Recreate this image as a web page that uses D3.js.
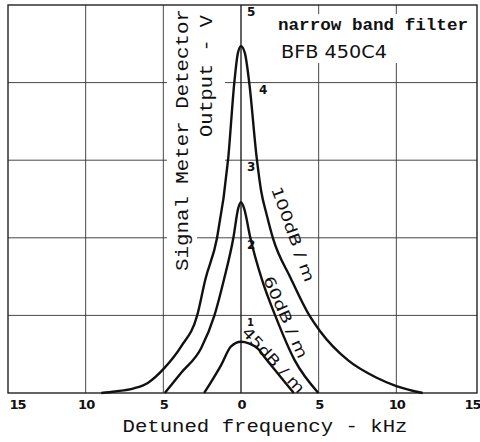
<!DOCTYPE html>
<html>
<head>
<meta charset="utf-8">
<script src="https://cdn.jsdelivr.net/npm/d3@7"></script>
<style>
  body { margin: 0; background: #fff; }
  svg { display: block; }
</style>
</head>
<body>
<div id="container"></div>
<script>
// chart size
const width = 480;
const height = 442;

// Curve data: [detuning kHz, output V]
const curve100 = [
  [-9, 0], [-8.1, 0.02], [-6.9, 0.06], [-6, 0.13], [-4.94, 0.32], [-3.85, 0.6],
  [-2.82, 1.0], [-2.3, 1.46], [-1.54, 2.0], [-0.82, 3.03], [-0.43, 4.0],
  [-0.2, 4.38], [0, 4.47], [0.25, 4.38], [0.53, 4.0], [1.0, 3.05],
  [1.3, 2.6], [1.65, 2.3], [2.05, 2.0], [3.2, 1.48], [4.4, 1.0],
  [5.08, 0.8], [6.9, 0.42], [8.7, 0.2], [10, 0.09], [11.7, 0]
];
const curve60 = [
  [-4.9, 0], [-3.85, 0.26], [-2.56, 0.58], [-1.71, 1.0], [-1.1, 1.46],
  [-0.49, 2.0], [-0.18, 2.38], [0, 2.46], [0.2, 2.38], [0.6, 2.0],
  [1.35, 1.46], [2.2, 1.0], [3.46, 0.42], [4.98, 0]
];
const curve45 = [
  [-2.37, 0], [-1.28, 0.36], [-0.64, 0.6], [0, 0.66], [0.5, 0.64],
  [1.1, 0.57], [1.6, 0.44], [2.5, 0.22], [3.4, 0]
];

// ticks
const xTicks = [-15, -10, -5, 0, 5, 10, 15];
const yTicks = [1, 2, 3, 4, 5];

// curve labels
const curveLabels = ["100dB / m", "60dB / m", "45dB / m"];

const x = d3.scaleLinear().domain([-15, 15]).range([8, 474]);
const y = d3.scaleLinear().domain([0, 5]).range([393, 5]);

const svg = d3.select("#container").append("svg")
    .attr("width", width)
    .attr("height", height);

// grid
const grid = svg.append("g")
    .attr("stroke", "#333")
    .attr("stroke-width", 0.9);

grid.selectAll("line.v")
    .data(xTicks.slice(1, -1))
    .join("line")
    .attr("x1", d => x(d)).attr("x2", d => x(d))
    .attr("y1", y(5)).attr("y2", y(0));

grid.selectAll("line.h")
    .data(yTicks.slice(0, -1))
    .join("line")
    .attr("x1", x(-15)).attr("x2", 477)
    .attr("y1", d => y(d)).attr("y2", d => y(d));

// white patches behind the text blocks (grid is broken there)
svg.append("rect").attr("x", 167).attr("y", 7).attr("width", 58).attr("height", 165).attr("fill", "#fff");
svg.append("rect").attr("x", 167).attr("y", 172).attr("width", 30).attr("height", 102).attr("fill", "#fff");
svg.append("rect").attr("x", 272).attr("y", 14).attr("width", 203).attr("height", 49).attr("fill", "#fff");

// center axis line
svg.append("line")
    .attr("x1", x(0)).attr("x2", x(0))
    .attr("y1", y(5)).attr("y2", y(0))
    .attr("stroke", "#222")
    .attr("stroke-width", 1);

// frame
svg.append("rect")
    .attr("x", x(-15)).attr("y", y(5))
    .attr("width", 477 - x(-15)).attr("height", y(0) - y(5))
    .attr("fill", "none")
    .attr("stroke", "#222")
    .attr("stroke-width", 1.4);

// curves
const line = d3.line()
    .x(d => x(d[0]))
    .y(d => y(d[1]))
    .curve(d3.curveMonotoneX);

svg.append("g")
    .selectAll("path")
    .data([curve100, curve60, curve45])
    .join("path")
    .attr("d", line)
    .attr("fill", "none")
    .attr("stroke", "#111")
    .attr("stroke-width", 2.4);

// y tick labels next to the centre line
const yLabelDx = { 1: 6, 2: 6, 3: 6, 4: 18, 5: 6 };
svg.append("g")
    .selectAll("text")
    .data(yTicks)
    .join("text")
    .attr("x", d => x(0) + yLabelDx[d])
    .attr("y", d => y(d) + 11)
    .attr("font-family", "DejaVu Sans")
    .attr("font-weight", "bold")
    .attr("font-size", d => d === 1 ? 10 : 12)
    .attr("fill", "#111")
    .text(d => d);

// x axis tick labels
const xAxis = d3.axisBottom(x)
    .tickValues(xTicks)
    .tickSize(0)
    .tickPadding(0)
    .tickFormat(d => Math.abs(d));

const gx = svg.append("g")
    .attr("transform", `translate(0,${y(0) + 4})`)
    .call(xAxis);
gx.select(".domain").remove();
gx.selectAll("text")
    .attr("font-family", "DejaVu Sans")
    .attr("font-weight", "bold")
    .attr("font-size", 13)
    .attr("letter-spacing", -1)
    .attr("fill", "#111")
    .attr("dy", "0.9em")
    .attr("dx", d => d === -15 ? 9 : d === 15 ? -2 : 0);

// axis titles
svg.append("text")
    .attr("x", 265)
    .attr("y", 432)
    .attr("text-anchor", "middle")
    .attr("font-family", "Liberation Mono")
    .attr("font-size", 19)
    .attr("textLength", 285)
    .attr("lengthAdjust", "spacingAndGlyphs")
    .attr("fill", "#111")
    .text("Detuned frequency - kHz");

svg.append("text")
    .attr("transform", "translate(188,140) rotate(-90)")
    .attr("text-anchor", "middle")
    .attr("font-family", "Liberation Mono")
    .attr("font-size", 19)
    .attr("textLength", 262)
    .attr("lengthAdjust", "spacingAndGlyphs")
    .attr("fill", "#111")
    .text("Signal Meter Detector");

svg.append("text")
    .attr("transform", "translate(212,76) rotate(-90)")
    .attr("text-anchor", "middle")
    .attr("font-family", "Liberation Mono")
    .attr("font-size", 19)
    .attr("textLength", 122)
    .attr("lengthAdjust", "spacingAndGlyphs")
    .attr("fill", "#111")
    .text("Output - V");

// legend block
svg.append("text")
    .attr("x", 278)
    .attr("y", 30)
    .attr("font-family", "Liberation Mono")
    .attr("font-weight", "bold")
    .attr("font-size", 16)
    .attr("textLength", 190)
    .attr("lengthAdjust", "spacingAndGlyphs")
    .attr("fill", "#111")
    .text("narrow band filter");

svg.append("text")
    .attr("x", 281)
    .attr("y", 58)
    .attr("font-family", "DejaVu Sans")
    .attr("font-size", 18)
    .attr("textLength", 106)
    .attr("lengthAdjust", "spacingAndGlyphs")
    .attr("fill", "#111")
    .text("BFB 450C4");

// labels along the curves
const labelPos = [
  { x: 271, y: 189, angle: 70, len: 100 },
  { x: 263, y: 279, angle: 66, len: 88 },
  { x: 241, y: 333, angle: 47, len: 84 }
];
svg.append("g")
    .selectAll("text")
    .data(curveLabels)
    .join("text")
    .attr("transform", (d, i) => `translate(${labelPos[i].x},${labelPos[i].y}) rotate(${labelPos[i].angle})`)
    .attr("font-family", "DejaVu Sans")
    .attr("font-size", 15)
    .attr("textLength", (d, i) => labelPos[i].len)
    .attr("lengthAdjust", "spacingAndGlyphs")
    .attr("fill", "#111")
    .text(d => d);
</script>
</body>
</html>
